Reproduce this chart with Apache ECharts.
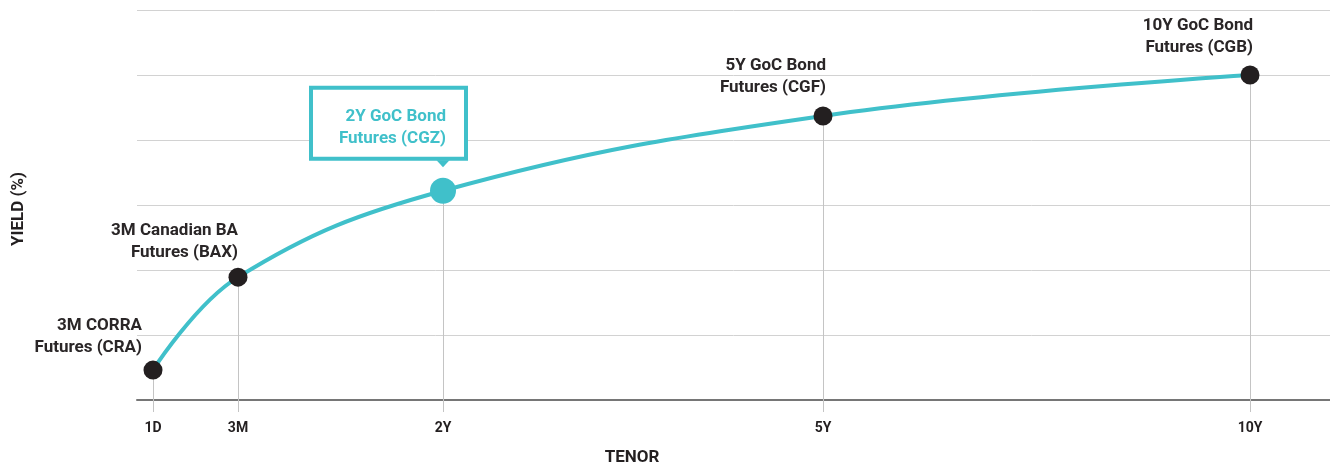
<!DOCTYPE html>
<html>
<head>
<meta charset="utf-8">
<script src="https://cdn.jsdelivr.net/npm/echarts@6/dist/echarts.min.js"></script>
<style>
html,body{margin:0;padding:0;background:#fff;}
#chart{width:1330px;height:468px;}
</style>
</head>
<body>
<div id="chart"></div>
<script>
// ---- data ----
const tenorLabels = ['1D', '3M', '2Y', '5Y', '10Y'];
const tenorPos = [0.16, 1.01, 3.06, 6.86, 11.13];   // schematic axis position of each tenor
const yields = [0.46, 1.89, 3.22, 4.37, 5.0];
const productLabels = [
  '3M CORRA\nFutures (CRA)',
  '3M Canadian BA\nFutures (BAX)',
  '2Y GoC Bond\nFutures (CGZ)',
  '5Y GoC Bond\nFutures (CGF)',
  '10Y GoC Bond\nFutures (CGB)'
];
const highlightIndex = 2;
const yTicks = [0, 1, 2, 3, 4, 5, 6];

// ---- styles ----
const TEAL = '#40c0ca';
const DARK = '#231f20';
const FONT = 'Roboto';
const labelOffsets = [[-11, -2], [0, -4], [21, -21], [3, -8], [3, -7]];

const chart = echarts.init(document.getElementById('chart'));

const pointData = yields.map((v, i) => {
  const hl = i === highlightIndex;
  const item = {
    value: [tenorPos[i], v],
    symbolSize: hl ? 26 : 19,
    itemStyle: { color: hl ? TEAL : DARK },
    label: {
      show: true,
      formatter: productLabels[i],
      position: ['50%', 0],
      align: 'right',
      verticalAlign: 'bottom',
      offset: labelOffsets[i],
      fontFamily: FONT,
      fontWeight: 'bold',
      fontSize: 17,
      lineHeight: 22,
      color: hl ? TEAL : '#2a2627'
    }
  };
  if (hl) {
    Object.assign(item.label, {
      backgroundColor: '#fff',
      borderColor: TEAL,
      borderWidth: 4,
      width: 117,
      padding: [16, 18, 7, 16]
    });
  }
  return item;
});

const option = {
  animation: false,
  grid: { left: 137, right: 0, top: 10, bottom: 68 },
  xAxis: {
    type: 'value',
    min: 0,
    max: 11.93,
    splitLine: { show: false },
    axisLine: { show: true, lineStyle: { color: '#767676', width: 2 } },
    axisTick: {
      show: true,
      customValues: tenorPos,
      length: 12,
      lineStyle: { color: '#c4c4c4', width: 1 }
    },
    axisLabel: {
      customValues: tenorPos,
      margin: 21,
      fontFamily: FONT,
      fontWeight: 'bold',
      fontSize: 14,
      color: DARK,
      formatter: function (v) {
        const i = tenorPos.findIndex(p => Math.abs(p - v) < 1e-6);
        return i >= 0 ? tenorLabels[i] : '';
      }
    }
  },
  yAxis: {
    type: 'value',
    min: yTicks[0],
    max: yTicks[yTicks.length - 1],
    interval: 1,
    axisLine: { show: false },
    axisTick: { show: false },
    axisLabel: { show: false },
    splitLine: { lineStyle: { color: '#d2d2d2', width: 1 } }
  },
  graphic: [{
    type: 'text',
    x: 632,
    y: 458,
    style: {
      text: 'TENOR',
      fontFamily: FONT,
      fontWeight: 'bold',
      fontSize: 17,
      fill: DARK,
      align: 'center',
      verticalAlign: 'middle'
    }
  }, {
    type: 'text',
    x: 19,
    y: 209,
    rotation: Math.PI / 2,
    style: {
      text: 'YIELD (%)',
      fontFamily: FONT,
      fontWeight: 'bold',
      fontSize: 17,
      fill: DARK,
      align: 'center',
      verticalAlign: 'middle'
    }
  }],
  series: [
    {
      type: 'line',
      data: pointData,
      smooth: 0.4,
      symbol: 'circle',
      lineStyle: { color: TEAL, width: 4 },
      z: 3,
      markLine: {
        silent: true,
        symbol: 'none',
        label: { show: false },
        lineStyle: { color: '#c4c4c4', width: 1, type: 'solid' },
        z: 1,
        data: tenorPos.map((p, i) => [{ coord: [p, 0] }, { coord: [p, yields[i]] }])
      },
      markPoint: {
        silent: true,
        symbol: 'path://M0,0 L10,0 L5,6 Z',
        symbolSize: [13, 7],
        symbolKeepAspect: false,
        symbolOffset: [0, -27],
        itemStyle: { color: TEAL },
        label: { show: false },
        data: [{ coord: [tenorPos[highlightIndex], yields[highlightIndex]] }]
      }
    }
  ]
};
chart.setOption(option);
</script>
</body>
</html>
